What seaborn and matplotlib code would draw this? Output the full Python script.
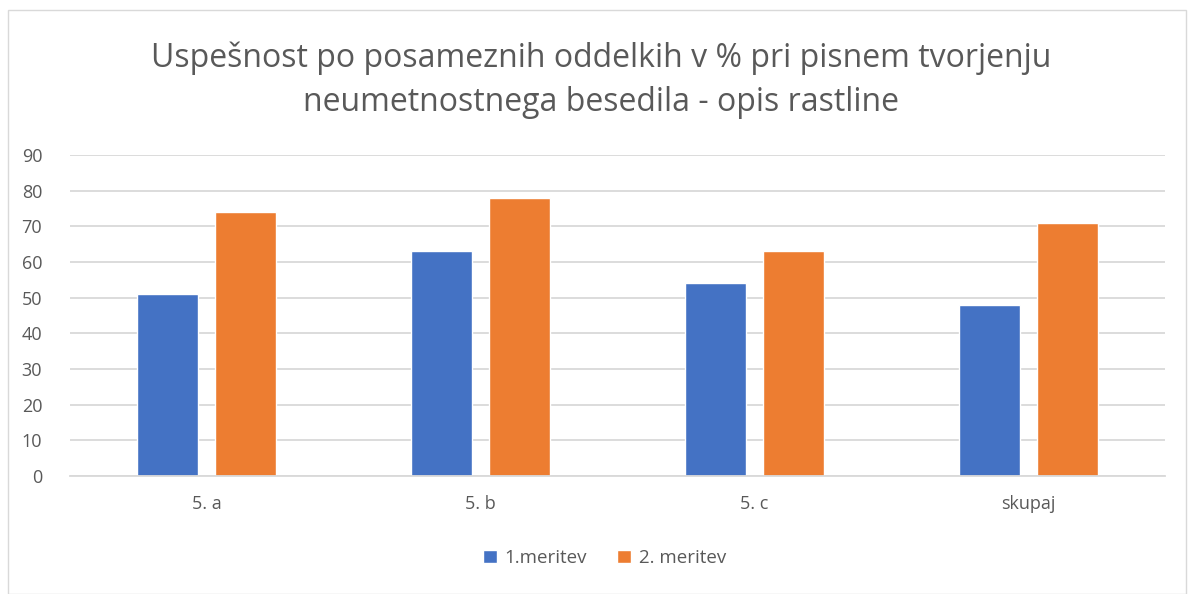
import matplotlib
matplotlib.use("Agg")
import matplotlib.pyplot as plt
import pandas as pd
import seaborn as sns

categories = ["5. a", "5. b", "5. c", "skupaj"]
meritev_1 = [51, 63, 54, 48]
meritev_2 = [74, 78, 63, 71]
series_names = ["1.meritev", "2. meritev"]

df = pd.DataFrame({
    "oddelek": categories * 2,
    "vrednost": meritev_1 + meritev_2,
    "meritev": [series_names[0]] * 4 + [series_names[1]] * 4,
})

sns.set_style("white")
plt.rcParams["font.family"] = ["Open Sans", "DejaVu Sans"]
gray = "#595959"

fig = plt.figure(figsize=(11.9, 5.94), dpi=100)
ax = fig.add_axes([0.0588, 0.1987, 0.9202, 0.5403])

sns.barplot(data=df, x="oddelek", y="vrednost", hue="meritev",
            palette=["#4472C4", "#ED7D31"], saturation=1, width=0.57, gap=0.22,
            ax=ax, legend=True)

ax.set_ylim(0, 90)
ax.set_yticks(range(0, 91, 10))
ax.yaxis.grid(True, color="#d9d9d9", linewidth=1.3)
ax.set_axisbelow(True)
for s in ["top", "right", "left"]:
    ax.spines[s].set_visible(False)
ax.spines["bottom"].set_color("#d9d9d9")
ax.spines["bottom"].set_linewidth(1.3)
ax.set_xlabel("")
ax.set_ylabel("")
ax.tick_params(axis="both", length=0, labelsize=13, labelcolor=gray)
ax.tick_params(axis="x", pad=14)
ax.tick_params(axis="y", pad=20)

ax.legend(loc="upper center", bbox_to_anchor=(0.488, -0.175), ncol=2, frameon=False,
          fontsize=13.5, labelcolor=gray, handlelength=0.75, handleheight=0.75,
          columnspacing=1.6, handletextpad=0.4)

fig.text(0.505, 0.865, "Uspešnost po posameznih oddelkih v % pri pisnem tvorjenju\nneumetnostnega besedila - opis rastline",
         ha="center", va="center", fontsize=23, color=gray, linespacing=1.45)

fig.patches.append(plt.Rectangle((0.007, 0.0), 0.99, 0.983, transform=fig.transFigure,
                                 fill=False, edgecolor="#d9d9d9", linewidth=1))

fig.savefig("out.png", dpi=100)
